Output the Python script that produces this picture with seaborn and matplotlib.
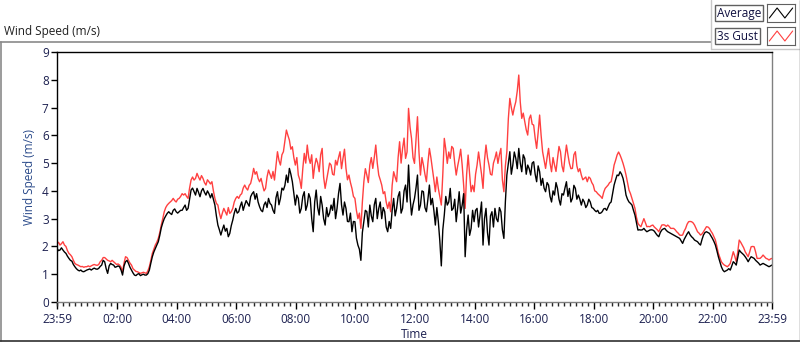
import pandas as pd
import numpy as np
import seaborn as sns
import matplotlib.pyplot as plt
import matplotlib.dates as mdates
from matplotlib.lines import Line2D

# readings every 6 minutes, one row per hour, starting at 23:59
average = [
    1.93, 1.87, 1.87, 1.75, 1.57, 1.47, 1.27, 1.15, 1.15, 1.09,
    1.15, 1.19, 1.19, 1.19, 1.21, 1.33, 1.45, 1.03, 1.39, 1.33,
    1.27, 1.27, 0.97, 1.45, 1.39, 1.15, 0.97, 1.00, 0.95, 1.00,
    0.97, 1.15, 1.63, 1.93, 2.17, 2.67, 3.00, 3.19, 3.19, 3.30,
    3.25, 3.25, 3.30, 3.49, 3.37, 4.03, 3.97, 4.09, 3.79, 4.09,
    3.85, 3.90, 3.90, 3.49, 2.77, 2.41, 2.77, 2.65, 2.47, 2.95,
    3.37, 3.25, 3.60, 3.49, 3.55, 3.79, 3.97, 3.90, 3.43, 3.25,
    3.60, 3.73, 3.49, 3.19, 3.97, 3.73, 4.03, 4.57, 4.81, 4.33,
    3.49, 3.73, 3.37, 3.97, 3.49, 3.73, 2.53, 4.03, 3.13, 3.49,
    2.77, 3.07, 3.49, 3.73, 3.37, 4.27, 3.13, 3.37, 2.89, 2.53,
    2.89, 2.05, 1.50, 2.89, 3.25, 3.49, 2.89, 3.73, 3.37, 3.00,
    3.25, 2.53, 2.65, 3.73, 3.37, 3.97, 3.37, 4.21, 4.93, 3.13,
    3.73, 4.57, 3.49, 3.97, 3.25, 4.21, 3.73, 2.77, 2.89, 1.30,
    3.13, 3.49, 4.09, 3.37, 2.89, 3.97, 3.49, 1.63, 3.13, 2.65,
    2.89, 3.37, 3.13, 2.05, 3.37, 2.05, 3.25, 3.37, 2.89, 3.25,
    2.29, 4.57, 5.41, 4.93, 5.17, 5.53, 4.69, 5.17, 4.93, 4.57,
    5.05, 4.33, 4.69, 4.45, 3.97, 4.21, 3.60, 3.85, 4.09, 3.49,
    3.85, 4.33, 4.09, 3.73, 4.09, 3.85, 3.49, 3.60, 3.49, 3.60,
    3.37, 3.25, 3.19, 3.25, 3.37, 3.43, 3.60, 4.21, 4.57, 4.69,
    4.45, 3.85, 3.60, 3.49, 3.13, 2.59, 2.59, 2.65, 2.53, 2.59,
    2.59, 2.47, 2.35, 2.59, 2.65, 2.53, 2.47, 2.41, 2.35, 2.29,
    2.11, 2.35, 2.53, 2.35, 2.23, 2.17, 2.05, 2.41, 2.53, 2.47,
    2.29, 2.05, 1.63, 1.27, 1.09, 1.15, 1.15, 1.45, 1.33, 1.87,
    1.75, 1.63, 1.45, 1.63, 1.57, 1.45, 1.33, 1.39, 1.33, 1.27,
    1.33,
]

# readings 3 minutes after each of the above
average_mid = [
    1.85, 1.95, 1.80, 1.65, 1.50, 1.35, 1.20, 1.12, 1.10, 1.12,
    1.17, 1.15, 1.22, 1.18, 1.28, 1.50, 1.20, 1.30, 1.35, 1.25,
    1.30, 1.15, 1.30, 1.50, 1.25, 1.05, 0.95, 1.02, 0.98, 0.97,
    1.02, 1.40, 1.80, 2.05, 2.40, 2.85, 3.10, 3.25, 3.15, 3.35,
    3.20, 3.30, 3.40, 3.30, 3.70, 4.10, 3.85, 3.95, 4.00, 3.95,
    4.00, 3.75, 3.70, 3.10, 2.60, 2.60, 2.55, 2.35, 2.75, 3.20,
    3.20, 3.45, 3.30, 3.65, 3.45, 3.90, 3.70, 3.60, 3.30, 3.50,
    3.40, 3.55, 3.30, 3.75, 3.50, 4.10, 4.20, 4.30, 4.60, 3.90,
    3.85, 3.20, 3.80, 3.30, 3.90, 3.00, 3.60, 3.40, 3.80, 3.00,
    3.40, 3.20, 3.30, 3.00, 3.90, 3.50, 3.60, 2.90, 3.20, 2.90,
    2.30, 1.90, 2.50, 3.30, 2.70, 3.10, 3.50, 3.00, 3.60, 3.40,
    2.70, 2.90, 3.30, 3.10, 3.80, 3.20, 4.00, 3.60, 3.80, 3.50,
    4.10, 3.30, 4.00, 3.40, 3.70, 3.50, 3.30, 3.40, 2.20, 2.60,
    3.80, 3.60, 3.30, 3.70, 3.40, 3.20, 3.90, 2.60, 2.40, 3.30,
    3.30, 2.70, 3.60, 3.00, 2.50, 3.10, 2.70, 3.00, 3.40, 2.60,
    3.60, 5.00, 4.60, 5.40, 4.80, 5.00, 5.30, 4.60, 4.80, 5.00,
    4.60, 4.90, 4.20, 4.10, 4.30, 3.80, 4.00, 4.30, 3.70, 3.90,
    4.10, 3.80, 3.60, 4.20, 3.70, 3.70, 3.70, 3.40, 3.70, 3.40,
    3.30, 3.30, 3.20, 3.35, 3.30, 3.55, 3.90, 4.40, 4.55, 4.60,
    4.20, 3.70, 3.55, 3.30, 2.85, 2.60, 2.60, 2.58, 2.56, 2.60,
    2.55, 2.40, 2.50, 2.63, 2.58, 2.50, 2.44, 2.38, 2.32, 2.20,
    2.25, 2.45, 2.42, 2.30, 2.20, 2.10, 2.25, 2.50, 2.50, 2.38,
    2.18, 1.85, 1.45, 1.15, 1.12, 1.20, 1.30, 1.40, 1.60, 1.80,
    1.70, 1.55, 1.55, 1.60, 1.50, 1.40, 1.36, 1.36, 1.30, 1.30,
]

gust = [
    2.10, 2.05, 2.17, 2.00, 1.75, 1.63, 1.39, 1.33, 1.27, 1.25,
    1.27, 1.27, 1.33, 1.33, 1.35, 1.50, 1.60, 1.50, 1.45, 1.45,
    1.35, 1.33, 1.09, 1.63, 1.50, 1.33, 1.15, 1.09, 1.03, 1.07,
    1.03, 1.27, 1.75, 2.05, 2.29, 2.77, 3.25, 3.49, 3.60, 3.73,
    3.60, 3.73, 3.90, 3.90, 3.73, 4.39, 4.39, 4.63, 4.39, 4.45,
    4.21, 4.33, 4.33, 3.73, 3.49, 3.00, 3.37, 3.13, 3.19, 3.37,
    3.73, 3.73, 3.90, 4.21, 4.03, 4.27, 4.81, 4.69, 4.33, 4.21,
    4.09, 4.75, 4.45, 4.39, 5.41, 4.93, 5.41, 6.19, 5.83, 5.59,
    4.93, 4.57, 4.09, 5.35, 5.65, 4.99, 4.45, 5.17, 4.69, 5.53,
    4.09, 4.69, 4.93, 4.57, 4.93, 5.41, 5.17, 4.81, 4.57, 4.09,
    3.73, 3.00, 2.65, 4.33, 4.57, 4.93, 4.81, 5.65, 4.57, 4.21,
    3.97, 3.37, 3.25, 4.69, 4.33, 5.77, 5.53, 5.17, 6.97, 5.89,
    4.99, 6.67, 4.57, 4.93, 4.33, 5.53, 4.81, 3.97, 4.09, 3.49,
    5.89, 4.99, 5.17, 5.53, 4.57, 5.17, 4.93, 3.37, 5.29, 3.97,
    3.97, 4.93, 4.99, 4.09, 5.65, 4.93, 4.57, 5.17, 4.99, 5.53,
    3.97, 5.41, 7.33, 6.73, 7.21, 8.17, 6.61, 6.49, 6.01, 6.73,
    6.37, 5.53, 6.73, 5.41, 4.81, 5.53, 4.69, 4.93, 5.17, 5.41,
    4.69, 5.65, 4.99, 4.81, 5.41, 4.69, 4.57, 4.45, 4.33, 4.45,
    4.21, 3.97, 3.85, 3.73, 4.09, 4.21, 4.33, 4.93, 5.29, 5.29,
    4.99, 4.57, 4.03, 3.73, 3.37, 2.83, 2.71, 3.00, 2.71, 2.71,
    2.77, 2.65, 2.53, 2.77, 2.77, 2.77, 2.65, 2.65, 2.53, 2.41,
    2.41, 2.65, 2.89, 2.89, 2.77, 2.53, 2.41, 2.53, 2.71, 2.65,
    2.47, 2.23, 1.75, 1.45, 1.33, 1.27, 1.39, 1.81, 1.45, 2.23,
    2.05, 1.81, 1.63, 1.99, 1.99, 1.57, 1.57, 1.69, 1.57, 1.51,
    1.57,
]

gust_mid = [
    2.15, 2.10, 2.05, 1.85, 1.70, 1.50, 1.35, 1.30, 1.28, 1.27,
    1.30, 1.30, 1.35, 1.32, 1.45, 1.60, 1.55, 1.48, 1.50, 1.40,
    1.37, 1.25, 1.40, 1.60, 1.40, 1.20, 1.10, 1.06, 1.05, 1.05,
    1.12, 1.50, 1.90, 2.15, 2.50, 3.00, 3.40, 3.55, 3.65, 3.65,
    3.70, 3.80, 3.85, 3.80, 4.10, 4.50, 4.45, 4.50, 4.55, 4.30,
    4.40, 4.25, 4.00, 3.55, 3.20, 3.20, 3.25, 3.40, 3.25, 3.60,
    3.80, 3.85, 4.10, 4.10, 4.20, 4.50, 4.60, 4.45, 4.45, 4.00,
    4.50, 4.60, 4.70, 4.90, 5.10, 5.30, 5.80, 6.00, 5.50, 5.20,
    5.20, 4.40, 4.80, 5.00, 5.20, 5.30, 4.90, 5.00, 5.30, 4.50,
    4.40, 5.00, 4.60, 5.10, 5.20, 4.80, 5.50, 4.40, 4.30, 3.80,
    3.30, 3.20, 3.60, 4.80, 4.30, 5.20, 5.20, 5.00, 4.40, 3.90,
    3.60, 3.60, 4.20, 4.50, 5.20, 5.00, 5.90, 5.40, 6.30, 5.20,
    5.80, 5.40, 5.20, 4.60, 5.00, 5.20, 4.40, 4.50, 3.80, 4.60,
    5.50, 5.40, 5.60, 5.00, 4.90, 5.50, 4.20, 4.60, 4.60, 4.20,
    4.60, 5.40, 4.60, 5.10, 5.20, 4.60, 5.00, 5.40, 5.30, 4.40,
    4.90, 6.60, 7.00, 7.00, 7.60, 7.20, 6.80, 6.20, 6.60, 6.40,
    5.90, 6.10, 6.00, 5.10, 5.20, 5.00, 5.20, 4.70, 5.60, 4.90,
    5.20, 5.30, 4.80, 5.30, 4.90, 4.80, 4.40, 4.50, 4.50, 4.30,
    4.00, 3.90, 3.80, 3.95, 4.15, 4.30, 4.60, 5.10, 5.40, 5.15,
    4.80, 4.30, 3.90, 3.55, 3.05, 2.76, 2.85, 2.85, 2.72, 2.75,
    2.70, 2.60, 2.65, 2.78, 2.72, 2.72, 2.65, 2.60, 2.48, 2.40,
    2.55, 2.80, 2.90, 2.85, 2.65, 2.48, 2.45, 2.62, 2.70, 2.55,
    2.35, 2.00, 1.60, 1.38, 1.30, 1.32, 1.60, 1.65, 1.80, 2.15,
    1.95, 1.72, 1.80, 2.00, 1.80, 1.57, 1.62, 1.63, 1.55, 1.55,
]


def merge(main, mid):
    out = []
    for a, b in zip(main, mid):
        out += [a, b]
    return out + [main[-1]]


avg_all = merge(average, average_mid)
gust_all = merge(gust, gust_mid)

start = pd.Timestamp('2024-01-01 23:59')
end = pd.Timestamp('2024-01-02 23:59')
times = pd.date_range(start, end, periods=len(avg_all))

df = pd.DataFrame({'Time': np.concatenate([times, times]),
                   'Speed': avg_all + gust_all,
                   'Series': ['Average'] * len(avg_all) + ['3s Gust'] * len(gust_all)})

sns.set_style('ticks')
plt.rcParams['font.family'] = ['Open Sans', 'DejaVu Sans']

fig = plt.figure(figsize=(8, 3.42), dpi=100)
ax = fig.add_axes([57 / 800, 40 / 342, 715 / 800, 250 / 342])

sns.lineplot(data=df, x='Time', y='Speed', hue='Series',
             hue_order=['3s Gust', 'Average'],
             palette={'Average': 'black', '3s Gust': '#ff4040'},
             linewidth=1.0, legend=False, ax=ax, estimator=None)

navy = '#1c2050'
ax.set_ylim(0, 9)
ax.set_yticks(range(0, 10))
ax.set_xlim(start, end)
major = [start] + [pd.Timestamp(f'2024-01-02 {h:02d}:00') for h in range(2, 24, 2)] + [end]
ax.set_xticks(major)
ax.xaxis.set_major_formatter(mdates.DateFormatter('%H:%M'))
ax.xaxis.set_minor_locator(mdates.MinuteLocator(byminute=[0, 12, 24, 36, 48]))
ax.tick_params(axis='both', labelsize=8.5, labelcolor=navy, color='black', width=1)
ax.tick_params(axis='x', which='major', length=5, pad=3)
ax.tick_params(axis='x', which='minor', length=3, width=1)
ax.tick_params(axis='y', length=4, pad=2)

ax.set_xlabel('Time', fontsize=8.5, color=navy, labelpad=1)
ax.set_ylabel('Wind Speed (m/s)', fontsize=8.5, color='#2a4a8a', labelpad=4)

for side in ['left', 'top']:
    ax.spines[side].set_visible(True)
    ax.spines[side].set_color('black')
for side in ['right', 'bottom']:
    ax.spines[side].set_visible(True)
    ax.spines[side].set_color('#808080')
for s in ax.spines.values():
    s.set_linewidth(1)

# outer frame
gray = '#8a8a8a'
fig.add_artist(Line2D([0, 711 / 800], [1 - 42 / 342] * 2, color=gray, lw=1.2))
fig.add_artist(Line2D([0.5 / 800] * 2, [1 - 42 / 342, 1 / 342], color=gray, lw=1.2))
fig.add_artist(Line2D([0, 1], [1 / 342] * 2, color='#303030', lw=1.2))
fig.add_artist(Line2D([711 / 800] * 2, [1, 1 - 49 / 342], color='#c8c8c8', lw=1))
fig.add_artist(Line2D([711 / 800, 1], [1 - 49 / 342] * 2, color='#c8c8c8', lw=1))
fig.add_artist(Line2D([799.5 / 800] * 2, [1, 1 / 342], color='#606060', lw=1))

fig.text(4 / 800, 1 - 32 / 342, 'Wind Speed (m/s)', fontsize=8.5, color='#202020', va='center')

# LabVIEW-style legend
for i, (name, col) in enumerate([('Average', 'black'), ('3s Gust', '#ff4040')]):
    yc = 1 - (13 + 23 * i) / 342
    fig.text(717 / 800, yc, name, fontsize=8.5, color='#101040', va='center', ha='left',
             bbox=dict(boxstyle='square,pad=0.15', fc='white', ec='#606060', lw=1))
    lax = fig.add_axes([767 / 800, yc - 9 / 342, 28 / 800, 18 / 342])
    lax.plot([0, 1, 2, 3], [0, 1, 0, 1], color=col, lw=0.8)
    lax.set_xlim(-0.3, 3.3)
    lax.set_ylim(-0.4, 1.4)
    lax.set_xticks([])
    lax.set_yticks([])
    for s in lax.spines.values():
        s.set_color('#606060')

fig.savefig('out.png', dpi=100)
